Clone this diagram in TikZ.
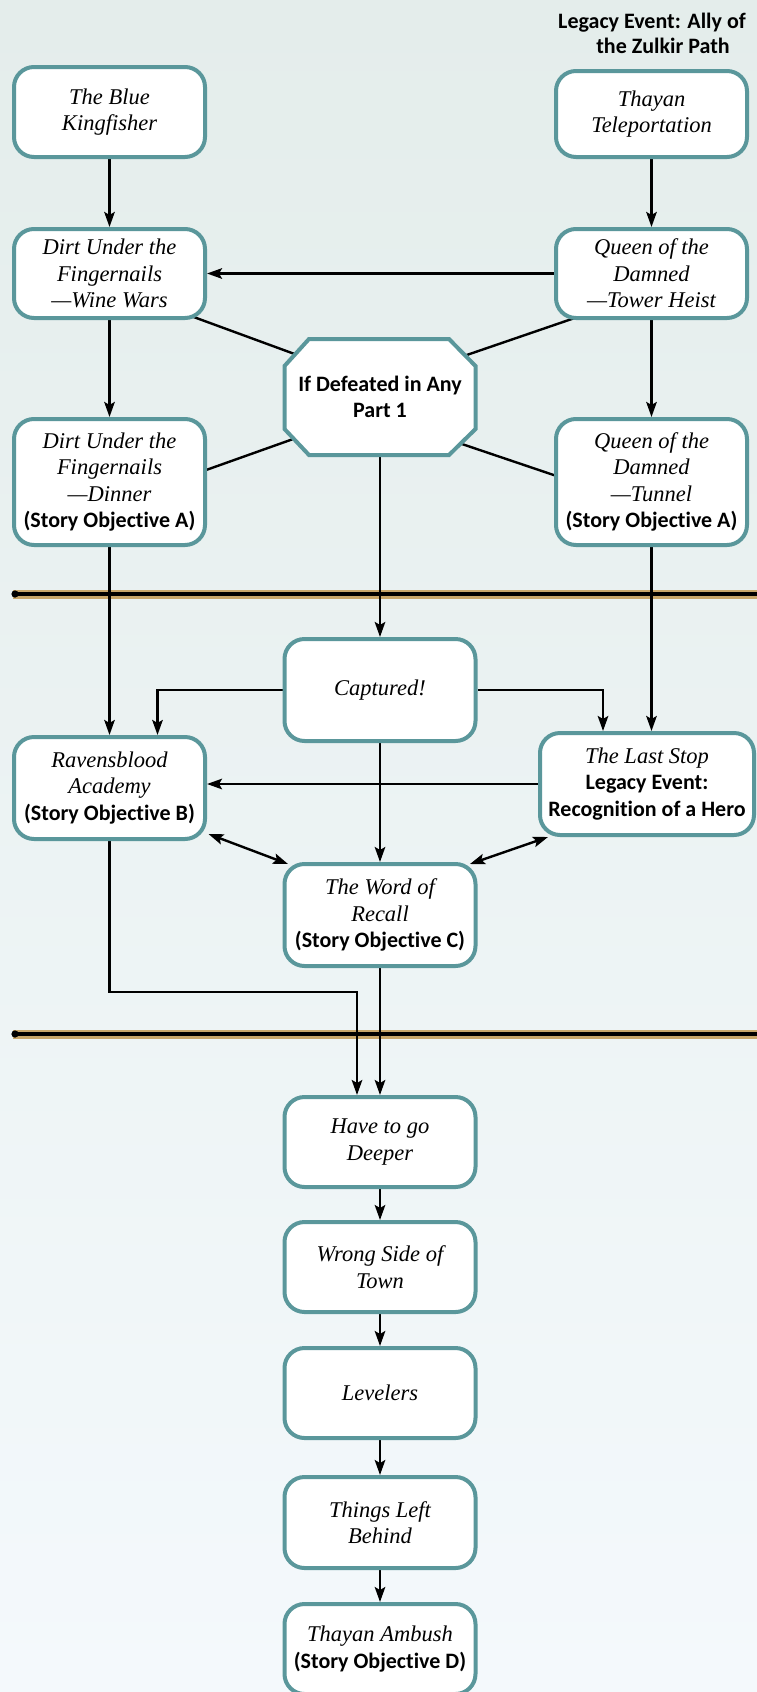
\documentclass[tikz,border=0pt]{standalone}
\usepackage{fontspec}
\setmainfont{Liberation Serif}
\newfontfamily\sansbold{Carlito}[Ligatures=NoCommon]
\usetikzlibrary{arrows.meta,calc}
\pgfdeclarelayer{bg}
\pgfdeclarelayer{edges}
\pgfsetlayers{bg,edges,main}
\definecolor{boxline}{HTML}{5A979B}
\definecolor{bgtop}{HTML}{E4EDEB}
\definecolor{bgmid}{HTML}{EAF2F1}
\definecolor{bgbot}{HTML}{F4F9FC}
\definecolor{sepgold}{HTML}{C8A66A}
\newcommand{\sbf}[1]{{\sansbold\bfseries\upshape\fontsize{22}{26.5}\selectfont #1}}
\begin{document}
\begin{tikzpicture}[x=1pt,y=-1pt,
  box/.style={draw=boxline, line width=4pt, fill=white, rounded corners=20pt,
    minimum width=191pt, inner sep=0pt, align=center,
    font=\fontsize{22.5}{26.5}\selectfont\itshape},
  octlabel/.style={draw=none, minimum width=191pt, minimum height=116pt, inner sep=0pt,
    align=center, font=\sansbold\bfseries\fontsize{22}{25.5}\selectfont},
  octshape/.style={draw=boxline, line width=4pt, fill=white},
  legacy/.style={align=center, inner sep=0pt, font=\sansbold\bfseries\fontsize{22}{25}\selectfont},
  conn/.style={draw=black, line width=2.4pt},
  arr/.style={conn, -{Stealth[length=15pt,width=10.5pt,inset=3pt]}},
  darr/.style={conn, {Stealth[length=15pt,width=10.5pt,inset=3pt]}-{Stealth[length=15pt,width=10.5pt,inset=3pt]}},
  sepband/.style={draw=sepgold, line width=9pt},
  sepcore/.style={draw=black, line width=4pt, line cap=round}
]
\useasboundingbox (0,0) rectangle (757,1692);
\begin{pgfonlayer}{bg}
  \fill[top color=bgtop, middle color=bgmid, bottom color=bgbot] (0,0) rectangle (757,1692);
  % separators
  \draw[sepband] (13,594) -- (757,594);
  \draw[sepcore] (15,594) -- (757,594);
  \fill (15,594) circle (3.6pt);
  \draw[sepband] (13,1034) -- (757,1034);
  \draw[sepcore] (15,1034) -- (757,1034);
  \fill (15,1034) circle (3.6pt);
\end{pgfonlayer}

% top-right caption
\node[legacy] (legacy) at (652,33) {Legacy Event: Ally of\\\hspace*{22pt}the Zulkir Path};

% nodes
\node[box, minimum height=90pt] (bk) at (109.5,112) {The Blue\\Kingfisher};
\node[box, minimum height=86pt] (tt) at (651.5,114) {Thayan\\Teleportation};
\node[box, minimum height=89pt] (dw) at (109.5,273.5) {Dirt Under the\\Fingernails\\—Wine Wars};
\node[box, minimum height=89pt] (qt) at (651.5,273.5) {Queen of the\\Damned\\—Tower Heist};

\coordinate (octc) at (380,397);
\draw[octshape] ($(octc)+(-71,-58)$) -- ($(octc)+(69,-58)$) -- ($(octc)+(95.5,-31)$)
  -- ($(octc)+(95.5,32)$) -- ($(octc)+(69,58)$) -- ($(octc)+(-71,58)$)
  -- ($(octc)+(-95.5,32)$) -- ($(octc)+(-95.5,-31)$) -- cycle;
\node[octlabel] (oct) at (octc) {If Defeated in Any\\Part 1};

\node[box, minimum height=126pt] (dd) at (109.5,482) {Dirt Under the\\Fingernails\\—Dinner\\\sbf{(Story Objective A)}};
\node[box, minimum height=126pt] (qn) at (651.5,482) {Queen of the\\Damned\\—Tunnel\\\sbf{(Story Objective A)}};

\node[box, minimum height=102pt] (cap) at (380,690) {Captured!};
\node[box, minimum height=102pt] (rb) at (109.5,788) {Ravensblood\\Academy\\\sbf{(Story Objective B)}};
\node[box, minimum height=102pt, minimum width=214pt] (ls) at (647,784) {The Last Stop\\\sbf{Legacy Event:}\\\sbf{Recognition of a Hero}};
\node[box, minimum height=102pt] (wr) at (380,915) {The Word of\\Recall\\\sbf{(Story Objective C)}};

\node[box, minimum height=90pt] (hd) at (380,1142) {Have to go\\Deeper};
\node[box, minimum height=90pt] (ws) at (380,1267) {Wrong Side of\\Town};
\node[box, minimum height=90pt] (lv) at (380,1393) {Levelers};
\node[box, minimum height=91pt] (tl) at (380,1522.5) {Things Left\\Behind};
\node[box, minimum height=90pt] (ta) at (380,1649) {Thayan Ambush\\\sbf{(Story Objective D)}};

\coordinate (elb) at (357,992);

\begin{pgfonlayer}{edges}
  \draw[arr] (bk) -- (dw);
  \draw[arr] (tt) -- (qt);
  \draw[arr] (qt) -- (dw);
  \draw[arr] (dw) -- (dd);
  \draw[arr] (qt) -- (qn);
  % octagon spokes
  \draw[conn] ($(dw.center)+(76,40.5)$) -- ($(oct.center)+(-80,-41)$);
  \draw[conn] ($(qt.center)+(-71,42.5)$) -- ($(oct.center)+(78,-39)$);
  \draw[conn] ($(oct.center)+(-84,41)$) -- ($(dd.center)+(91,-10)$);
  \draw[conn] ($(oct.center)+(76,45)$) -- ($(qn.center)+(-89,-4)$);
  % to part 2
  \draw[arr] (dd) -- (rb);
  \draw[arr] (qn.south) -- (qn.south |- ls.north);
  \draw[arr] (oct.south) -- (cap.north);
  \draw[arr] (cap.west) -| ($(rb.north)+(48,0)$);
  \draw[arr] (cap.east) -| ($(ls.north)+(-44,0)$);
  \draw[arr] (cap) -- (wr);
  \draw[arr] (ls.west) -- (ls.west -| rb.east);
  \draw[darr] ($(rb.center)+(99,46)$) -- ($(wr.center)+(-92,-51)$);
  \draw[darr] ($(ls.center)+(-99,53)$) -- ($(wr.center)+(90,-51)$);
  % to part 3
  \draw[arr] (rb.south) |- (elb) -- (elb |- hd.north);
  \draw[arr] (wr) -- (hd);
  \draw[arr] (hd) -- (ws);
  \draw[arr] (ws) -- (lv);
  \draw[arr] (lv) -- (tl);
  \draw[arr] (tl) -- (ta);
\end{pgfonlayer}
\end{tikzpicture}
\end{document}
